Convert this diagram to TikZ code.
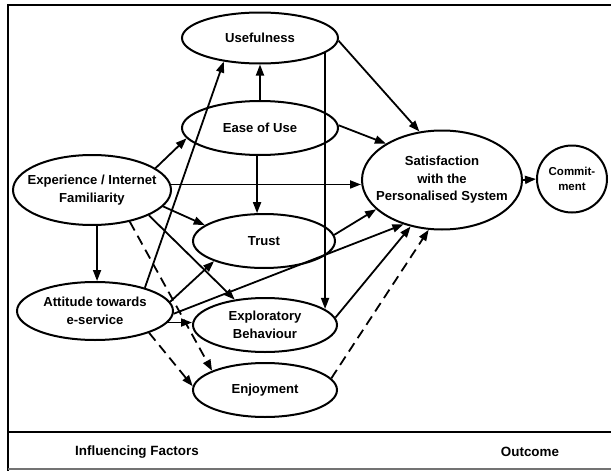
\documentclass[tikz,border=0pt]{standalone}
\usepackage{fontspec}
\setmainfont{Liberation Sans}
\usetikzlibrary{arrows.meta,shapes.geometric}
\begin{document}
\begin{tikzpicture}[x=1pt,y=-1pt,
  every node/.style={inner sep=0pt},
  ell/.style={draw,ellipse,line width=2pt},
  txt/.style={align=center,font=\bfseries\fontsize{13.1}{17.5}\selectfont},
  smalltxt/.style={align=center,font=\bfseries\fontsize{11.5}{15}\selectfont},
  arr/.style={-{Triangle[length=11pt,width=8pt]},line width=1.8pt},
  dsh/.style={arr,dash pattern=on 10pt off 6pt},
  lbl/.style={font=\bfseries\fontsize{13.4}{16}\selectfont}]
\useasboundingbox (0,0) rectangle (611,471);
% frame
\draw[line width=2.6pt] (7,5) -- (611,5);
\draw[line width=2pt] (8,4) -- (8,471);
\draw[line width=2.2pt] (8,432) -- (611,432);
\draw[line width=1.2pt,black!55] (8,469) -- (611,469);
% nodes
\node[ell,minimum width=156pt,minimum height=51pt,label={[txt,name=Ut]center:Usefulness}] (U) at (260,38) {};
\node[ell,minimum width=156pt,minimum height=54pt,label={[txt,name=Et]center:Ease of Use}] (E) at (260,128) {};
\node[ell,minimum width=158pt,minimum height=70pt,label={[txt,name=Xt]center:Experience / Internet\\Familiarity}] (X) at (92,190) {};
\node[ell,minimum width=142pt,minimum height=54pt,label={[txt,name=Tt]center:Trust}] (T) at (264,241) {};
\node[ell,minimum width=156pt,minimum height=58pt,label={[txt,name=At]center:Attitude towards\\e-service}] (A) at (95,311) {};
\node[ell,minimum width=144pt,minimum height=54pt,label={[txt,name=Bt]center:Exploratory\\Behaviour}] (B) at (265,325) {};
\node[ell,minimum width=144pt,minimum height=54pt,label={[txt,name=Jt]center:Enjoyment}] (J) at (265,390) {};
\node[ell,minimum width=160pt,minimum height=99pt,label={[txt,name=St]center:Satisfaction\\with the\\Personalised System}] (S) at (442,180) {};
\node[ell,minimum width=70pt,minimum height=67pt,label={[smalltxt,name=Ct]center:Commit-\\ment}] (C) at (572,179) {};
% connectors
\draw[arr] (U.-2) -- (S.115);
\draw[arr] (E.north) -- (U.south);
\draw[arr] (E.2) -- (S.147);
\draw[arr] (E.-96) -- (E.-96 |- T.105);
\draw[arr] (X.19) -- (E.188);
\draw[arr] (X.4) -- (X.4 -| S.west);
\draw[arr] (X.-13) -- (T.165);
\draw[arr] (X.-24) -- (B.140);
\draw[arr] (X.-82) -- (X.-82 |- A.north);
\draw[dsh] (X.-40) -- (J.160);
\draw[dsh] (A.-22) -- (J.177);
\draw[arr] (A.25) -- (U.213);
\draw[arr] (A.7) -- (T.202);
\draw[arr] (A.-2) -- (S.229);
\draw[arr] (A.-9) -- (A.-9 -| B.west);
\draw[arr] (U.-13) -- (U.-13 |- B.15);
\draw[arr] (T.5) -- (S.204);
\draw[arr] (B.6) -- (S.236);
\draw[dsh] (J.10) -- (S.255);
\draw[arr] (S.east) -- (C.west);
% bottom labels
\node[lbl] (lf) at (137,452) {Influencing Factors};
\node[lbl] (lo) at (530,452) {Outcome};
\end{tikzpicture}
\end{document}
